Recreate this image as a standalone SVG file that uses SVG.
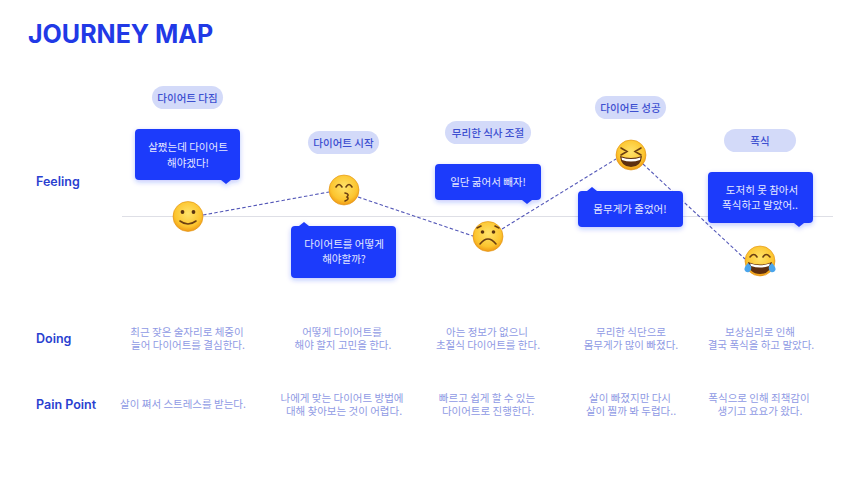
<svg xmlns="http://www.w3.org/2000/svg" width="860" height="484" viewBox="0 0 860 484">
<style>
text{font-family:"Inter","Noto Sans CJK KR",sans-serif}
.k{font-family:"Noto Sans CJK KR","Noto Sans",sans-serif}
.title{font-size:25px;font-weight:700;fill:#2139e6}
.lab{font-size:12.5px;font-weight:600;fill:#2a3fd0}
.pill{fill:#d3daf9}
.pt{font-size:10.5px;font-weight:500;fill:#3d4fd0;text-anchor:middle;font-family:"Noto Sans CJK KR",sans-serif}
.bub{fill:#1f3bfb;filter:url(#sh)}
.bt{font-size:10.5px;fill:#e6e9ff;text-anchor:middle;font-family:"Noto Sans CJK KR",sans-serif}
.body{font-size:10.5px;fill:#8f9ae4;text-anchor:middle;font-family:"Noto Sans CJK KR",sans-serif}
.dash{stroke:#5458b8;stroke-width:1.1;stroke-dasharray:3.5 2.2;fill:none}
.eye{fill:#5b3410}
.ln{fill:none;stroke:#6b3f12;stroke-width:1.6;stroke-linecap:round}
.face{fill:url(#fg);stroke:#e0900f;stroke-width:.6}
</style>
<defs>
<radialGradient id="fg" cx=".5" cy=".4" r=".62"><stop offset="0" stop-color="#ffe36a"/><stop offset=".7" stop-color="#fcc52f"/><stop offset="1" stop-color="#ee9412"/></radialGradient>
<filter id="sh" x="-15%" y="-20%" width="130%" height="150%"><feDropShadow dx="0" dy="2" stdDeviation="2.5" flood-color="#1f3bfb" flood-opacity=".28"/></filter>
</defs>
<rect width="860" height="484" fill="#fff"/>
<text class="title" x="28" y="43">JOURNEY MAP</text>
<text class="lab" x="36" y="186">Feeling</text>
<text class="lab" x="36" y="343">Doing</text>
<text class="lab" x="36" y="409">Pain Point</text>
<line x1="122" y1="216.500" x2="833" y2="216.500" stroke="#dedfe6" stroke-width="1"/>
<g id="connectors">
<line class="dash" x1="203" y1="215" x2="329" y2="192"/>
<line class="dash" x1="358" y1="197" x2="473" y2="236"/>
<line class="dash" x1="502" y1="229" x2="616" y2="159"/>
<line class="dash" x1="643" y1="164" x2="745" y2="259"/>
</g>
<g id="stage1">
<rect class="pill" x="152" y="86" width="71" height="23" rx="11.500"/>
<text class="pt" x="187.500" y="101.500">다이어트 다짐</text>
<path class="bub" d="M139 129H236a4 4 0 0 1 4 4V176a4 4 0 0 1-4 4H231L226 184L221 180H139a4 4 0 0 1-4-4V133a4 4 0 0 1 4-4Z"/>
<text class="bt" x="188" y="151">살쩠는데 다이어트</text>
<text class="bt" x="188" y="167">해야겠다!</text>
<circle class="face" cx="188" cy="216.500" r="15"/>
<circle class="eye" cx="182.500" cy="212" r="1.900"/><circle class="eye" cx="193.500" cy="212" r="1.900"/>
<path class="ln" d="M180 221Q188 227 196 221"/>
</g>
<g id="stage2">
<rect class="pill" x="308" y="131" width="71" height="23" rx="11.500"/>
<text class="pt" x="343.500" y="146.500">다이어트 시작</text>
<path class="bub" d="M295 226H299L304 222L309 226H392a4 4 0 0 1 4 4V274a4 4 0 0 1-4 4H295a4 4 0 0 1-4-4V230a4 4 0 0 1 4-4Z"/>
<text class="bt" x="344" y="248">다이어트를 어떻게</text>
<text class="bt" x="344" y="263">해야할까?</text>
<circle class="face" cx="344" cy="190" r="15"/>
<path class="ln" d="M336 187Q339 182 342 187M346 187Q349 182 352 187"/>
<path class="ln" d="M345 193Q350 194 347 197Q350 199 345 201" stroke-width="1.400"/>
</g>
<g id="stage3">
<rect class="pill" x="445" y="121" width="86" height="23" rx="11.500"/>
<text class="pt" x="488" y="136.500">무리한 식사 조절</text>
<path class="bub" d="M439 164H537a4 4 0 0 1 4 4V196a4 4 0 0 1-4 4H532L527 204L522 200H439a4 4 0 0 1-4-4V168a4 4 0 0 1 4-4Z"/>
<text class="bt" x="488" y="186">일단 굶어서 빼자!</text>
<circle class="face" cx="488" cy="236.500" r="15"/>
<circle class="eye" cx="482.500" cy="232" r="1.800"/><circle class="eye" cx="493.500" cy="232" r="1.800"/>
<path class="ln" d="M480 244Q488 234 496 244"/>
<path class="ln" d="M477 228L481 226M499 228L495 226" stroke-width="1"/>
</g>
<g id="stage4">
<rect class="pill" x="595" y="96" width="71" height="23" rx="11.500"/>
<text class="pt" x="630.500" y="111.500">다이어트 성공</text>
<path class="bub" d="M582 191H587L592 187L597 191H679a4 4 0 0 1 4 4V223a4 4 0 0 1-4 4H582a4 4 0 0 1-4-4V195a4 4 0 0 1 4-4Z"/>
<text class="bt" x="630" y="213">몸무게가 줄었어!</text>
<circle class="face" cx="631" cy="155" r="15"/>
<path class="ln" d="M621 148L627 151.500L621 155M641 148L635 151.500L641 155"/>
<path d="M620 156Q631 160 642 156Q641 167 631 167Q621 167 620 156Z" fill="#5e2f10"/>
<path d="M621.500 157.500Q631 160.500 640.500 157.500L640 160Q631 163 622 160Z" fill="#fff"/>
</g>
<g id="stage5">
<rect class="pill" x="724" y="129" width="72" height="23" rx="11.500"/>
<text class="pt" x="760" y="144.500">폭식</text>
<path class="bub" d="M712 172H809a4 4 0 0 1 4 4V219a4 4 0 0 1-4 4H804L799 227L794 223H712a4 4 0 0 1-4-4V176a4 4 0 0 1 4-4Z"/>
<text class="bt" x="762" y="194">도저히 못 참아서</text>
<text class="bt" x="760" y="209">폭식하고 말았어..</text>
<circle class="face" cx="760" cy="261" r="15"/>
<path class="ln" d="M750 257Q754 252 757 257M763 257Q766 252 770 257"/>
<path d="M748 262Q760 267 772 262Q771 274 760 274Q749 274 748 262Z" fill="#5e2f10"/>
<path d="M750 263.500Q760 267 770 263.500L769 266Q760 269 751 266Z" fill="#fff"/>
<path d="M748 263Q744 267 744.500 270Q746 273 749 272Q752 270 751 266Z" fill="#4aa5ec"/>
<path d="M772 263Q776 267 775.500 270Q774 273 771 272Q768 270 769 266Z" fill="#4aa5ec"/>
</g>
<g id="doing">
<text class="body" x="187" y="336">최근 잦은 술자리로 체중이</text>
<text class="body" x="188" y="349">늘어 다이어트를 결심한다.</text>
<text class="body" x="342" y="336">어떻게 다이어트를</text>
<text class="body" x="343" y="349">해야 할지 고민을 한다.</text>
<text class="body" x="487" y="336">아는 정보가 없으니</text>
<text class="body" x="488" y="349">초절식 다이어트를 한다.</text>
<text class="body" x="631" y="336">무리한 식단으로</text>
<text class="body" x="631" y="349">몸무게가 많이 빠졌다.</text>
<text class="body" x="760" y="336">보상심리로 인해</text>
<text class="body" x="761" y="349">결국 폭식을 하고 말았다.</text>
</g>
<g id="pain">
<text class="body" x="183" y="408">살이 쪄서 스트레스를 받는다.</text>
<text class="body" x="342" y="402">나에게 맞는 다이어트 방법에</text>
<text class="body" x="344" y="415">대해 찾아보는 것이 어렵다.</text>
<text class="body" x="487" y="402">빠르고 쉽게 할 수 있는</text>
<text class="body" x="488" y="415">다이어트로 진행한다.</text>
<text class="body" x="630" y="402">살이 빠졌지만 다시</text>
<text class="body" x="631" y="415">살이 찔까 봐 두렵다..</text>
<text class="body" x="759" y="402">폭식으로 인해 죄책감이</text>
<text class="body" x="760" y="415">생기고 요요가 왔다.</text>
</g>
</svg>
